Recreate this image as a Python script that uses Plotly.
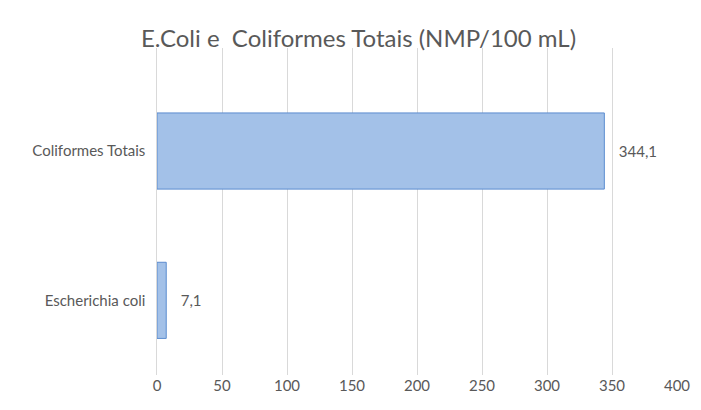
import plotly.graph_objects as go

categories = ["Escherichia coli", "Coliformes Totais"]
values = [7.1, 344.1]
labels = ["   7,1", "   344,1"]

fig = go.Figure()
fig.add_trace(go.Bar(
    y=categories, x=values, orientation="h", width=0.51,
    marker=dict(color="#a3c1e8", line=dict(color="#5b8ccf", width=1)),
    text=labels, textposition="outside", cliponaxis=False,
    textfont=dict(size=15, color="#595959"),
))

fig.update_layout(
    width=701, height=410,
    paper_bgcolor="white", plot_bgcolor="white",
    font=dict(family="Lato, Open Sans, sans-serif", color="#595959", size=15),
    title=dict(text="E.Coli e  Coliformes Totais (NMP/100 mL)", x=0.5, xanchor="center",
               y=0.925, yanchor="middle", font=dict(size=24, color="#595959")),
    margin=dict(l=149, r=32, t=40, b=43, autoexpand=False),
    showlegend=False,
    xaxis=dict(range=[0, 400], dtick=50, showgrid=True, gridcolor="#d9d9d9",
               zeroline=False, showline=False, ticks="", tickfont=dict(size=15),
               automargin=False),
    yaxis=dict(range=[-0.5, 1.69], showgrid=False, showline=True, linecolor="#d9d9d9",
               ticks="", ticksuffix="  ", tickfont=dict(size=15), automargin=False),
)

fig.write_html("out.html")
